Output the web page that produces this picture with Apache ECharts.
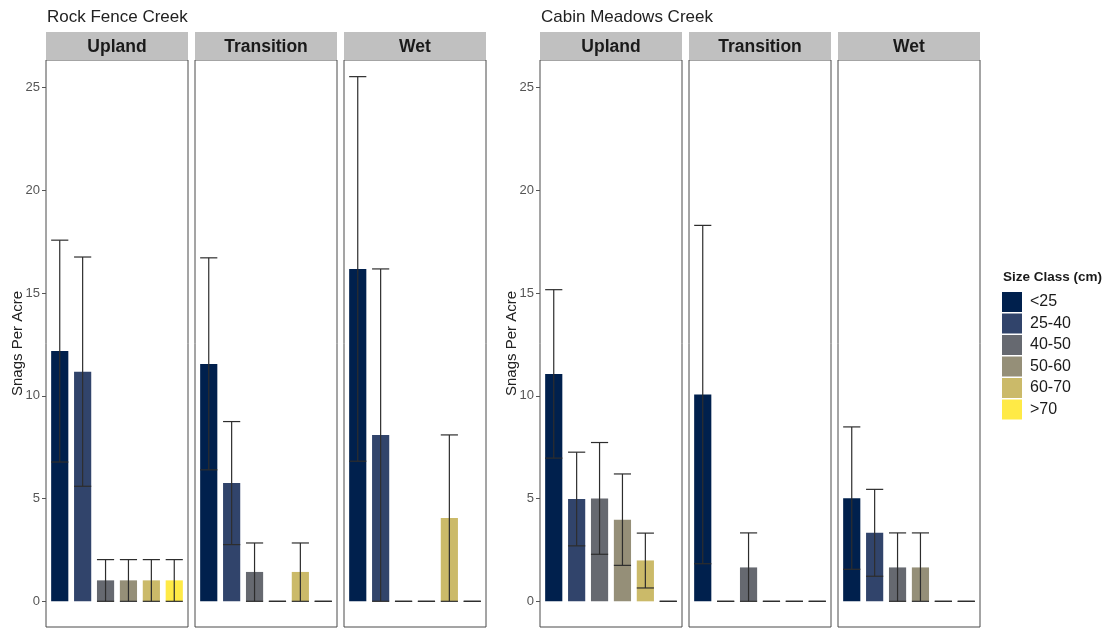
<!DOCTYPE html>
<html>
<head>
<meta charset="utf-8">
<script src="https://cdn.jsdelivr.net/npm/echarts@6/dist/echarts.min.js"></script>
<style>
html,body{margin:0;padding:0;background:#fff;}
#chart{width:1113px;height:628px;}
</style>
</head>
<body>
<div id="chart"></div>
<script>
// ---- data ----
const creeks = ['Rock Fence Creek', 'Cabin Meadows Creek'];
const habitats = ['Upland', 'Transition', 'Wet'];
const sizeClasses = ['<25', '25-40', '40-50', '50-60', '60-70', '>70'];
const yTickLabels = [0, 5, 10, 15, 20, 25];

// Rock Fence Creek
const rockUplandMean = [12.18, 11.17, 1.02, 1.02, 1.02, 1.02];
const rockUplandLow  = [6.78, 5.6, 0, 0, 0, 0];
const rockUplandHigh = [17.58, 16.76, 2.03, 2.03, 2.03, 2.03];

const rockTransitionMean = [11.55, 5.76, 1.43, 0, 1.43, 0];
const rockTransitionLow  = [6.4, 2.76, 0, 0, 0, 0];
const rockTransitionHigh = [16.72, 8.75, 2.84, 0, 2.84, 0];

const rockWetMean = [16.18, 8.1, 0, 0, 4.05, 0];
const rockWetLow  = [6.82, 0, 0, 0, 0, 0];
const rockWetHigh = [25.54, 16.18, 0, 0, 8.1, 0];

// Cabin Meadows Creek
const cabinUplandMean = [11.07, 4.98, 5.0, 3.97, 1.99, 0];
const cabinUplandLow  = [6.97, 2.7, 2.29, 1.75, 0.65, 0];
const cabinUplandHigh = [15.17, 7.26, 7.73, 6.2, 3.32, 0];

const cabinTransitionMean = [10.07, 0, 1.65, 0, 0, 0];
const cabinTransitionLow  = [1.83, 0, 0, 0, 0, 0];
const cabinTransitionHigh = [18.3, 0, 3.33, 0, 0, 0];

const cabinWetMean = [5.02, 3.34, 1.65, 1.65, 0, 0];
const cabinWetLow  = [1.56, 1.22, 0, 0, 0, 0];
const cabinWetHigh = [8.49, 5.45, 3.33, 3.33, 0, 0];

// ---- styling / layout ----
const sizeColors = ['#00204D', '#31446B', '#666970', '#958F78', '#CBBA69', '#FFEA46'];
const panelLefts = [46, 195, 344, 540, 689, 838];
const panelWidth = 142;
const panelTop = 60;
const panelHeight = 567;
const stripTop = 32;
const yMin = -1.25, yMax = 26.35;
const xMin = 0.4, xMax = 6.6;
const barFrac = 0.75;
const barPx = panelWidth / (xMax - xMin) * barFrac;
const FONT = '"Liberation Sans", Arial, sans-serif';

const panels = [
  { creek: 0, habitat: 0, mean: rockUplandMean, low: rockUplandLow, high: rockUplandHigh },
  { creek: 0, habitat: 1, mean: rockTransitionMean, low: rockTransitionLow, high: rockTransitionHigh },
  { creek: 0, habitat: 2, mean: rockWetMean, low: rockWetLow, high: rockWetHigh },
  { creek: 1, habitat: 0, mean: cabinUplandMean, low: cabinUplandLow, high: cabinUplandHigh },
  { creek: 1, habitat: 1, mean: cabinTransitionMean, low: cabinTransitionLow, high: cabinTransitionHigh },
  { creek: 1, habitat: 2, mean: cabinWetMean, low: cabinWetLow, high: cabinWetHigh }
];

const grids = [], xAxes = [], yAxes = [], series = [], graphics = [];

panels.forEach((p, i) => {
  const first = p.habitat === 0;
  grids.push({
    left: panelLefts[i], top: panelTop, width: panelWidth, height: panelHeight,
    show: true, borderColor: '#4a4a4a', borderWidth: 1, backgroundColor: '#fff'
  });
  xAxes.push({ type: 'value', gridIndex: i, min: xMin, max: xMax, show: false });
  yAxes.push({
    type: 'value', gridIndex: i, min: yMin, max: yMax,
    axisLine: { show: false },
    splitLine: { show: false },
    axisTick: { show: first, customValues: yTickLabels, length: 4, lineStyle: { color: '#555', width: 1 } },
    axisLabel: { show: first, customValues: yTickLabels, margin: 6, color: '#555', fontSize: 13, fontFamily: FONT },
    name: first ? 'Snags Per Acre' : '',
    nameLocation: 'middle', nameGap: 21, nameMoveOverlap: false,
    nameTextStyle: { color: '#222', fontSize: 15, fontFamily: FONT }
  });
  sizeClasses.forEach((cls, k) => {
    series.push({
      type: 'bar', name: cls, xAxisIndex: i, yAxisIndex: i,
      barWidth: barPx, barGap: '-100%',
      itemStyle: { color: sizeColors[k] },
      data: [[k + 1, p.mean[k]]],
      silent: true
    });
  });
  series.push({
    type: 'custom', name: 'err' + i, xAxisIndex: i, yAxisIndex: i, z: 10, silent: true,
    data: sizeClasses.map((c, k) => [k + 1, p.low[k], p.high[k]]),
    renderItem: function (params, api) {
      const x = api.value(0);
      const lo = api.coord([x, api.value(1)]);
      const hi = api.coord([x, api.value(2)]);
      const half = api.size([barFrac, 0])[0] / 2;
      const st = { stroke: '#2d2d2d', lineWidth: 1.2, fill: null };
      return {
        type: 'group',
        children: [
          { type: 'line', shape: { x1: hi[0], y1: hi[1], x2: lo[0], y2: lo[1] }, style: st },
          { type: 'line', shape: { x1: hi[0] - half, y1: hi[1], x2: hi[0] + half, y2: hi[1] }, style: st },
          { type: 'line', shape: { x1: lo[0] - half, y1: lo[1], x2: lo[0] + half, y2: lo[1] }, style: st }
        ]
      };
    }
  });
  // facet strip
  graphics.push({
    type: 'rect', left: panelLefts[i], top: stripTop,
    shape: { width: panelWidth, height: panelTop - stripTop }, style: { fill: '#c0c0c0' }, silent: true
  });
  graphics.push({
    type: 'text', x: panelLefts[i] + panelWidth / 2, y: 47,
    style: { text: habitats[p.habitat], fill: '#1a1a1a', font: 'bold 17.5px ' + FONT, align: 'center', verticalAlign: 'middle' },
    silent: true
  });
});

// creek titles
creeks.forEach((c, j) => {
  graphics.push({
    type: 'text', x: panelLefts[j * 3] + 1, y: 17.5,
    style: { text: c, fill: '#222', font: '17px ' + FONT, align: 'left', verticalAlign: 'middle' },
    silent: true
  });
});
// legend title
graphics.push({
  type: 'text', x: 1003, y: 277,
  style: { text: 'Size Class (cm)', fill: '#1a1a1a', font: 'bold 13.5px ' + FONT, align: 'left', verticalAlign: 'middle' },
  silent: true
});

const chart = echarts.init(document.getElementById('chart'), null, { renderer: 'canvas' });
chart.setOption({
  animation: false,
  backgroundColor: '#fff',
  grid: grids,
  xAxis: xAxes,
  yAxis: yAxes,
  legend: {
    data: sizeClasses,
    orient: 'vertical', left: 1002, top: 292, padding: 0,
    itemWidth: 20, itemHeight: 20, itemGap: 1.5,
    icon: 'rect', selectedMode: false,
    itemStyle: { borderWidth: 0 },
    textStyle: { fontSize: 16, color: '#1a1a1a', fontFamily: FONT, padding: [0, 0, 0, 3] }
  },
  series: series,
  graphic: graphics
});
</script>
</body>
</html>
